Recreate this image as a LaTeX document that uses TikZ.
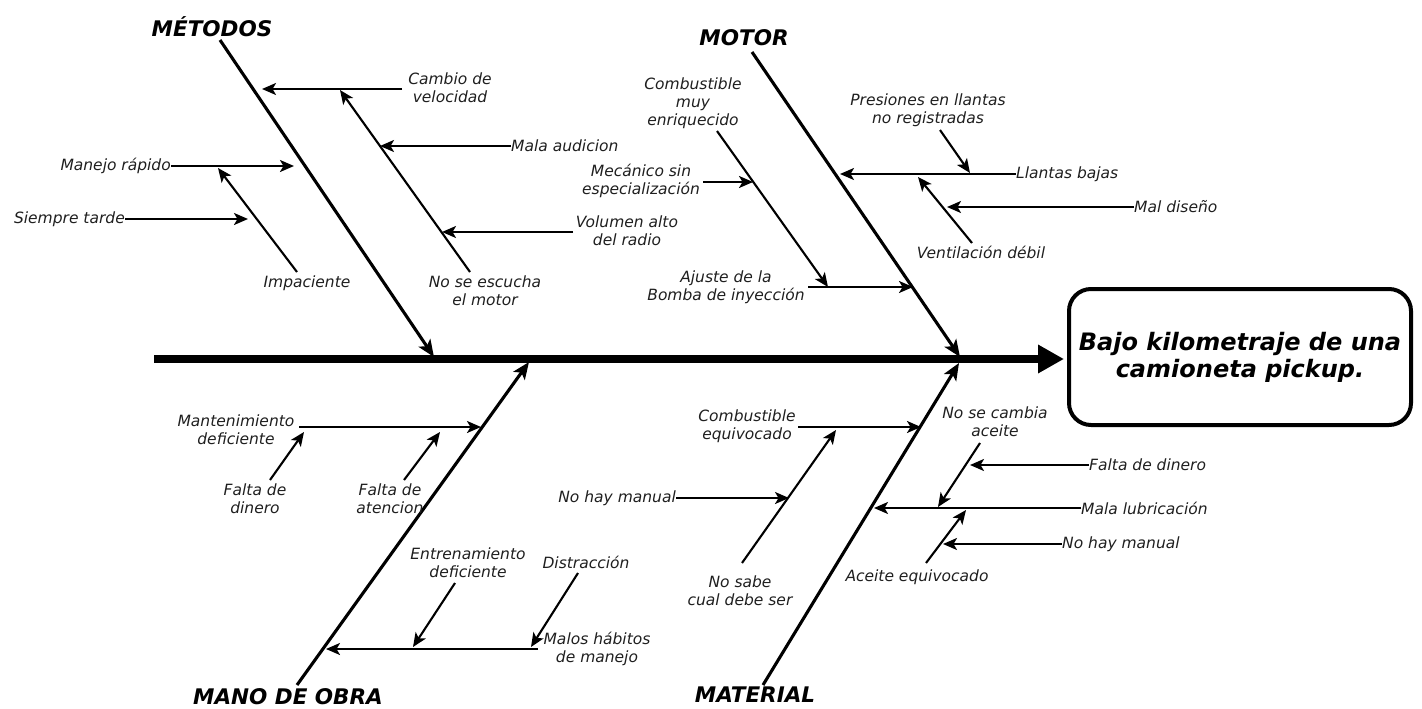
\documentclass[tikz,border=0pt]{standalone}
\usepackage{fontspec}
\setmainfont{DejaVu Sans}[ItalicFont={DejaVu Sans Oblique},BoldFont={DejaVu Sans Bold},BoldItalicFont={DejaVu Sans Bold Oblique}]
\usetikzlibrary{arrows.meta}

\begin{document}
\begin{tikzpicture}[x=1pt,y=-1pt,
  lbl/.style={font=\fontsize{15.5}{18}\selectfont\itshape, inner sep=0pt, align=center, text=black!88},
  cat/.style={font=\fontsize{21.5}{24}\selectfont\bfseries\itshape, inner sep=0pt},
  bone/.style={line width=3.1pt, -{Stealth[length=17pt,width=14pt,inset=4pt]}},
  twig/.style={line width=2.1pt, -{Stealth[length=14pt,width=12pt,inset=3.5pt]}},
  spine/.style={line width=8.5pt, -{Triangle[length=26pt,width=27pt]}},
  effect/.style={draw, line width=4pt, rounded corners=22pt, minimum width=342pt, minimum height=136pt, inner sep=0pt, align=center, font=\fontsize{24}{27}\selectfont\bfseries\itshape}
]
\useasboundingbox (0,0) rectangle (1422,709);

% effect box and spine
\node[effect] (effect) at (1240,357) {Bajo kilometraje de una\\camioneta pickup.};
\coordinate (spineTail) at (154,359);
\draw[spine, shorten >=3pt] (spineTail) -- (spineTail -| effect.west);

% category labels
\node[cat] (metodos) at (212,27) {MÉTODOS};
\node[cat] (motor) at (744,38) {MOTOR};
\node[cat] (mano) at (288,697) {MANO DE OBRA};
\node[cat] (material) at (755,695) {MATERIAL};

% main bones
\coordinate (metA) at (220,40);   \coordinate (metB) at (434,357);
\coordinate (motA) at (752,52);   \coordinate (motB) at (960,357);
\coordinate (manA) at (297,685);  \coordinate (manB) at (529,362);
\coordinate (matA) at (763,685);  \coordinate (matB) at (959,363);
\draw[bone] (metA) -- (metB);
\draw[bone] (motA) -- (motB);
\draw[bone] (manA) -- (manB);
\draw[bone] (matA) -- (matB);

% ---------------- MÉTODOS ----------------
\node[lbl] (cambio) at (450,88) {Cambio de\\velocidad};
\coordinate (cambioS) at (402,89); \coordinate (cambioT) at (262,89);
\draw[twig] (cambioS) -- (cambioT);

\node[lbl] (noEsc) at (485,291) {No se escucha\\el motor};
\coordinate (noEscS) at (470,272); \coordinate (noEscT) at (340,90);
\draw[twig] (noEscS) -- (noEscT);

\node[lbl,anchor=west] (malaAud) at (511,146) {Mala audicion};
\coordinate (malaAudT) at (380,146);
\draw[twig] (malaAud.west) -- (malaAudT);

\node[lbl] (volumen) at (627,231) {Volumen alto\\del radio};
\coordinate (volS) at (573,232); \coordinate (volT) at (442,232);
\draw[twig] (volS) -- (volT);

\node[lbl,anchor=east] (manejo) at (171,166) {Manejo rápido};
\coordinate (manejoT) at (294,166);
\draw[twig] (manejo.east) -- (manejoT);

\node[lbl] (impac) at (307,283) {Impaciente};
\coordinate (impacS) at (297,272); \coordinate (impacT) at (218,168);
\draw[twig] (impacS) -- (impacT);

\node[lbl,anchor=east] (siempre) at (125,219) {Siempre tarde};
\coordinate (siempreT) at (248,219);
\draw[twig] (siempre.east) -- (siempreT);

% ---------------- MOTOR ----------------
\node[lbl] (combEnr) at (693,103) {Combustible\\muy\\enriquecido};
\coordinate (combEnrS) at (717,131); \coordinate (combEnrT) at (828,287);
\draw[twig] (combEnrS) -- (combEnrT);

\node[lbl] (mecanico) at (641,181) {Mecánico sin\\especialización};
\coordinate (mecS) at (703,182); \coordinate (mecT) at (753,182);
\draw[twig] (mecS) -- (mecT);

\node[lbl] (ajuste) at (726,287) {Ajuste de la\\Bomba de inyección};
\coordinate (ajusteS) at (808,287); \coordinate (ajusteT) at (913,287);
\draw[twig] (ajusteS) -- (ajusteT);

\node[lbl,anchor=west] (llantas) at (1016,174) {Llantas bajas};
\coordinate (llantasT) at (840,174);
\draw[twig] (llantas.west) -- (llantasT);

\node[lbl] (presiones) at (928,110) {Presiones en llantas\\no registradas};
\coordinate (presS) at (940,130); \coordinate (presT) at (970,173);
\draw[twig] (presS) -- (presT);

\node[lbl] (ventil) at (981,252) {Ventilación débil};
\coordinate (ventS) at (972,243); \coordinate (ventT) at (918,177);
\draw[twig] (ventS) -- (ventT);

\node[lbl,anchor=west] (malDis) at (1134,207) {Mal diseño};
\coordinate (malDisT) at (947,207);
\draw[twig] (malDis.west) -- (malDisT);

% ---------------- MANO DE OBRA ----------------
\node[lbl] (mantto) at (236,430) {Mantenimiento\\deficiente};
\coordinate (manttoS) at (299,427); \coordinate (manttoT) at (481,427);
\draw[twig] (manttoS) -- (manttoT);

\node[lbl] (faltaDin) at (255,499) {Falta de\\dinero};
\coordinate (faltaDinS) at (270,480); \coordinate (faltaDinT) at (304,432);
\draw[twig] (faltaDinS) -- (faltaDinT);

\node[lbl] (faltaAt) at (390,499) {Falta de\\atencion};
\coordinate (faltaAtS) at (404,480); \coordinate (faltaAtT) at (440,432);
\draw[twig] (faltaAtS) -- (faltaAtT);

\node[lbl] (malosHab) at (597,649) {Malos hábitos\\de manejo};
\coordinate (malosS) at (538,649); \coordinate (malosT) at (326,649);
\draw[twig] (malosS) -- (malosT);

\node[lbl] (entren) at (468,563) {Entrenamiento\\deficiente};
\coordinate (entrenS) at (455,583); \coordinate (entrenT) at (413,647);
\draw[twig] (entrenS) -- (entrenT);

\node[lbl] (distr) at (586,562) {Distracción};
\coordinate (distrS) at (578,573); \coordinate (distrT) at (531,647);
\draw[twig] (distrS) -- (distrT);

% ---------------- MATERIAL ----------------
\node[lbl] (combEq) at (747,426) {Combustible\\equivocado};
\coordinate (combEqS) at (798,427); \coordinate (combEqT) at (921,427);
\draw[twig] (combEqS) -- (combEqT);

\node[lbl] (noSabe) at (740,591) {No sabe\\cual debe ser};
\coordinate (noSabeS) at (742,563); \coordinate (noSabeT) at (836,430);
\draw[twig] (noSabeS) -- (noSabeT);

\node[lbl,anchor=east] (noManualL) at (676,498) {No hay manual};
\coordinate (noManualLT) at (789,498);
\draw[twig] (noManualL.east) -- (noManualLT);

\node[lbl] (noCambia) at (995,422) {No se cambia\\aceite};
\coordinate (noCambiaS) at (980,443); \coordinate (noCambiaT) at (938,507);
\draw[twig] (noCambiaS) -- (noCambiaT);

\node[lbl,anchor=west] (faltaDinR) at (1089,465) {Falta de dinero};
\coordinate (faltaDinRT) at (970,465);
\draw[twig] (faltaDinR.west) -- (faltaDinRT);

\node[lbl,anchor=west] (malaLub) at (1081,508) {Mala lubricación};
\coordinate (malaLubT) at (874,508);
\draw[twig] (malaLub.west) -- (malaLubT);

\node[lbl] (aceiteEq) at (917,577) {Aceite equivocado};
\coordinate (aceiteS) at (926,563); \coordinate (aceiteT) at (966,510);
\draw[twig] (aceiteS) -- (aceiteT);

\node[lbl,anchor=west] (noManualR) at (1062,544) {No hay manual};
\coordinate (noManualRT) at (943,544);
\draw[twig] (noManualR.west) -- (noManualRT);
\end{tikzpicture}
\end{document}
